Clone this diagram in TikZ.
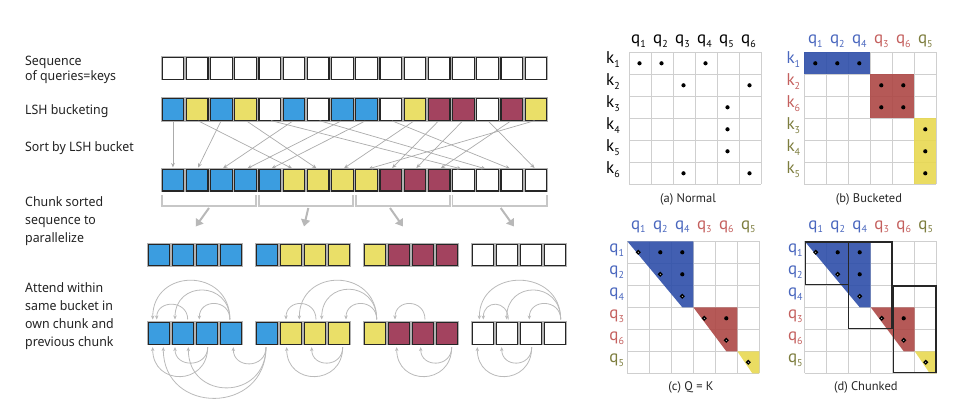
\documentclass[tikz,border=0pt]{standalone}
\usepackage{fontspec}
\newfontfamily\lefttext[FakeStretch=0.95]{Noto Sans}
\newfontfamily\gridfont{PT Sans}
\usetikzlibrary{arrows.meta}
\definecolor{bxblue}{RGB}{59,157,224}
\definecolor{bxyel}{RGB}{234,223,104}
\definecolor{bxred}{RGB}{163,67,95}
\definecolor{gblue}{RGB}{45,78,169}
\definecolor{gred}{RGB}{173,71,69}
\definecolor{gyel}{RGB}{232,216,81}
\definecolor{lblue}{RGB}{74,103,190}
\definecolor{lred}{RGB}{196,96,94}
\definecolor{lolive}{RGB}{125,125,62}
\definecolor{txt}{RGB}{34,34,34}
\newcommand\subl[1]{\raisebox{-0.45ex}{\fontsize{10}{10}\selectfont #1}}
\newcommand\sixgrid{\foreach \k in {0,...,6}{\draw[gridln] ({22*\k},0) -- ({22*\k},132); \draw[gridln] (0,{22*\k}) -- (132,{22*\k});}}
\begin{document}
\begin{tikzpicture}[x=1pt,y=-1pt,
  cell/.style={draw=black!85, line width=1.1pt, minimum width=21.6pt, minimum height=21.6pt, inner sep=0pt, outer sep=0pt, fill=white, preaction={draw=black!30, line width=2.6pt}},
  cW/.style={cell},
  cB/.style={cell, fill=bxblue},
  cY/.style={cell, fill=bxyel},
  cM/.style={cell, fill=bxred},
  lt/.style={anchor=base west, inner sep=0pt, text=txt, font=\lefttext\fontsize{13}{15}\selectfont},
  sortarr/.style={draw=black!33, line width=0.7pt, -{Stealth[length=4.5pt,width=3.8pt]}, shorten <=1.5pt, shorten >=2pt},
  bracketln/.style={draw=black!22, line width=1.8pt},
  chunkarr/.style={draw=black!28, line width=2pt, -{Triangle[length=7pt,width=9pt]}},
  attarc/.style={draw=black!27, line width=0.8pt, -{Stealth[length=4pt,width=3.5pt]}},
  gridln/.style={draw=black!19, line width=0.8pt},
  glab/.style={anchor=base, inner sep=0pt, font=\gridfont\fontsize{17}{17}\selectfont},
  captxt/.style={anchor=base, inner sep=0pt, text=black!85, font=\gridfont\fontsize{12.5}{14}\selectfont},
  odot/.style={fill=white, draw=black, line width=1.3pt},
  chunkbox/.style={draw=black!85, line width=1.5pt}
]
\useasboundingbox (0,0) rectangle (954,412);

% ---------- left texts ----------
\node[lt] (t1a) at (25,66) {Sequence};
\node[lt] (t1b) at (25,80.7) {of queries=keys};
\node[lt] (t2) at (25,114) {LSH bucketing};
\node[lt] (t3) at (25,151) {Sort by LSH bucket};
\node[lt] (t4a) at (25,206.7) {Chunk sorted};
\node[lt] (t4b) at (25,224.7) {sequence to};
\node[lt] (t4c) at (25,242.7) {parallelize};
\node[lt] (t5a) at (25,292) {Attend within};
\node[lt] (t5b) at (25,310) {same bucket in};
\node[lt] (t5c) at (25,328) {own chunk and};
\node[lt] (t5d) at (25,346) {previous chunk};

% ---------- rows of boxes ----------
\foreach \cl [count=\i] in {W,W,W,W,W,W,W,W,W,W,W,W,W,W,W,W}
  \node[c\cl] (r1-\i) at ({172.95+(\i-1)*24.2},68.3) {};
\foreach \cl [count=\i] in {B,Y,B,Y,W,B,W,B,B,W,Y,M,M,W,M,Y}
  \node[c\cl] (r2-\i) at ({172.95+(\i-1)*24.2},109.5) {};
\foreach \cl [count=\i] in {B,B,B,B,B,Y,Y,Y,Y,M,M,M,W,W,W,W}
  \node[c\cl] (r3-\i) at ({172.95+(\i-1)*24.2},180.2) {};
\foreach \cl [count=\i, evaluate=\i as \xx using {158.9+108*int((\i-1)/4)+24*mod(\i-1,4)}] in {B,B,B,B,B,Y,Y,Y,Y,M,M,M,W,W,W,W} {
  \node[c\cl] (r4-\i) at (\xx,255) {};
  \node[c\cl] (r5-\i) at (\xx,333.3) {};
}

% ---------- sorting arrows ----------
\foreach \a/\b in {1/1,3/2,6/3,8/4,9/5,2/6,4/7,11/8,16/9,12/10,13/11,15/12,5/13,7/14,10/15,14/16}
  \draw[sortarr] (r2-\a.south) -- (r3-\b.north);

% ---------- chunk brackets ----------
\foreach \k in {0,1,2,3} {
  \pgfmathtruncatemacro\lo{4*\k+1}
  \pgfmathtruncatemacro\hi{4*\k+4}
  \draw[bracketln] ([yshift=-3.5pt]r3-\lo.south west) -- ++(0,11.5) -| ([yshift=-3.5pt]r3-\hi.south east);
}
\coordinate (cs1) at (209,208);   \coordinate (ce1) at (195.7,226.5);
\coordinate (cs2) at (308.3,208); \coordinate (ce2) at (304,226.5);
\coordinate (cs3) at (390,208);   \coordinate (ce3) at (403,226.5);
\coordinate (cs4) at (500.7,208); \coordinate (ce4) at (514,226.5);
\foreach \k in {1,2,3,4} \draw[chunkarr] (cs\k) -- (ce\k);

% ---------- attention arcs ----------
\foreach \s/\ds/\e/\de/\h in {4/-1/1/-6.2/52, 4/-1/2/-7.9/39, 4/-1/3/-7.6/21, 2/4.8/1/-2.2/20,
   7/1.1/6/-4.9/21, 9/1.8/6/8.4/52, 9/1.8/7/6.8/40, 9/1.8/8/7.1/21, 11/2.1/10/-3.9/21,
   16/5.8/13/-3.6/52, 16/5.8/14/-0.2/39, 16/5.8/15/-1.6/21, 14/1.4/13/0.4/20}
  \draw[attarc] ([xshift=\ds pt,yshift=3pt]r5-\s.north) .. controls +(0,-\h) and +(0,-\h) .. ([xshift=\de pt,yshift=3pt]r5-\e.north);
\foreach \s/\ds/\e/\de/\h in {3/0.8/1/-6.2/39, 3/0.8/2/-7.9/21, 5/-0.9/4/2.4/22, 5/-0.9/2/5.4/54,
   5/-0.9/1/4.4/68, 8/3.8/6/-4.2/39, 8/3.8/7/-3.2/21, 12/4.8/10/-2.2/39, 12/4.8/11/-2.2/21,
   15/0.8/13/-5.6/39, 15/0.8/14/-5.2/21}
  \draw[attarc] ([xshift=\ds pt,yshift=-3pt]r5-\s.south) .. controls +(0,\h) and +(0,\h) .. ([xshift=\de pt,yshift=-3pt]r5-\e.south);

% ---------- panel (a) ----------
\begin{scope}[shift={(629,52.3)}]
  \sixgrid
  \foreach \r/\cc in {1/1,1/2,1/4,2/3,2/6,3/5,4/5,5/5,6/3,6/6}
    \fill[black] ({22*\cc-11.5},{22*\r-11}) circle[radius=2.1pt];
  \foreach \cc in {1,...,6}
    \node[glab] (a-q\cc) at ({22*\cc-12.5},-9) {q\subl{\cc}};
  \foreach \r in {1,...,6}
    \node[glab] (a-k\r) at (-16,{22*\r-11}) {k\subl{\r}};
  \node[captxt] (a-cap) at (59,150.4) {(a) Normal};
\end{scope}

% ---------- panel (b) ----------
\begin{scope}[shift={(804.3,52.3)}]
  \sixgrid
  \fill[gblue, opacity=0.9] (0,0) rectangle (66,22);
  \fill[gred, opacity=0.9] (66,22) rectangle (110,66);
  \fill[gyel, opacity=0.9] (110,66) rectangle (132,132);
  \foreach \r/\cc in {1/1,1/2,1/3,2/4,2/5,3/4,3/5,4/6,5/6,6/6}
    \fill[black] ({22*\cc-11},{22*\r-11}) circle[radius=2.1pt];
  \foreach \s/\col [count=\cc] in {1/lblue,2/lblue,4/lblue,3/lred,6/lred,5/lolive}
    \node[glab, text=\col] (b-q\cc) at ({22*\cc-11},-9) {q\subl{\s}};
  \foreach \s/\col [count=\r] in {1/lblue,2/lred,6/lred,3/lolive,4/lolive,5/lolive}
    \node[glab, text=\col] (b-k\r) at (-11,{22*\r-11}) {k\subl{\s}};
  \node[captxt] (b-cap) at (64.7,150.4) {(b) Bucketed};
\end{scope}

% ---------- panel (c) ----------
\begin{scope}[shift={(627.3,241.3)}]
  \sixgrid
  \fill[gblue, opacity=0.9] (0,0) -- (66,0) -- (66,66) -- (55,66) -- cycle;
  \fill[gred, opacity=0.9] (66,66) -- (110,66) -- (110,110) -- (99,110) -- cycle;
  \fill[gyel, opacity=0.9] (110,110) -- (132,110) -- (132,132) -- (125,132) -- cycle;
  \foreach \r/\cc in {1/2,1/3,2/3,4/5}
    \fill[black] ({22*\cc-11},{22*\r-11}) circle[radius=2.1pt];
  \foreach \r in {1,...,6}
    \filldraw[odot] ({22*\r-11},{22*\r-11}) circle[radius=1.7pt];
  \foreach \s/\col [count=\cc] in {1/lblue,2/lblue,4/lblue,3/lred,6/lred,5/lolive}
    \node[glab, text=\col] (c-q\cc) at ({22*\cc-11},-12.3) {q\subl{\s}};
  \foreach \s/\col [count=\r] in {1/lblue,2/lblue,4/lblue,3/lred,6/lred,5/lolive}
    \node[glab, text=\col] (c-r\r) at (-10.6,{22*\r-11}) {q\subl{\s}};
  \node[captxt] (c-cap) at (63.7,149.4) {(c) Q = K};
\end{scope}

% ---------- panel (d) ----------
\begin{scope}[shift={(804.7,241.3)}]
  \sixgrid
  \fill[gblue, opacity=0.9] (0,0) -- (66,0) -- (66,66) -- (55,66) -- cycle;
  \fill[gred, opacity=0.9] (66,66) -- (110,66) -- (110,110) -- (99,110) -- cycle;
  \fill[gyel, opacity=0.9] (110,110) -- (132,110) -- (132,132) -- (125,132) -- cycle;
  \foreach \r/\cc in {1/2,1/3,2/3,4/5}
    \fill[black] ({22*\cc-11},{22*\r-11}) circle[radius=2.1pt];
  \foreach \r in {1,...,6}
    \filldraw[odot] ({22*\r-11},{22*\r-11}) circle[radius=1.7pt];
  \draw[chunkbox] (0.8,0.8) rectangle (44,43.2);
  \draw[chunkbox] (44,0.8) rectangle (87.2,87.2);
  \draw[chunkbox] (88.8,44.8) rectangle (131.2,131.2);
  \foreach \s/\col [count=\cc] in {1/lblue,2/lblue,4/lblue,3/lred,6/lred,5/lolive}
    \node[glab, text=\col] (d-q\cc) at ({22*\cc-11},-12.3) {q\subl{\s}};
  \foreach \s/\col [count=\r] in {1/lblue,2/lblue,4/lblue,3/lred,6/lred,5/lolive}
    \node[glab, text=\col] (d-r\r) at (-9.4,{22*\r-11}) {q\subl{\s}};
  \node[captxt] (d-cap) at (61.1,149.4) {(d) Chunked};
\end{scope}
\end{tikzpicture}
\end{document}
